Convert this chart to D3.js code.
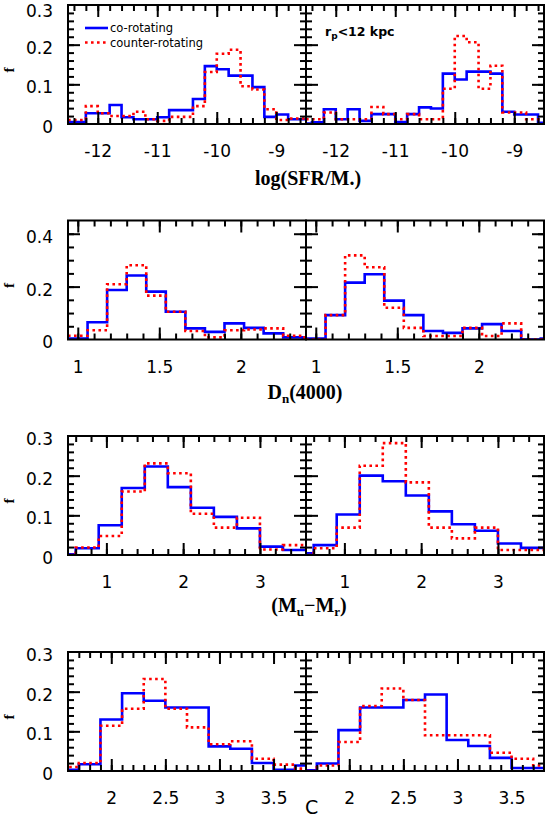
<!DOCTYPE html>
<html>
<head>
<meta charset="utf-8">
<script src="https://cdnjs.cloudflare.com/ajax/libs/d3/7.8.5/d3.min.js"></script>
<style>
body{margin:0;background:#fff;}
svg{display:block;}
.tk text{font-family:"DejaVu Sans",sans-serif;font-size:17px;fill:#000;}
.tk line{stroke:#000;stroke-width:2px;}
.ttl{font-family:"Liberation Serif",serif;font-weight:bold;font-size:20px;}
</style>
</head>
<body>
<div id="chart"></div>
<script>

// ---- row 1 : log(SFR/M*) , bins of 0.2 starting at -12.6
var sfrEdges=[-12.6,-12.4,-12.2,-12.0,-11.8,-11.6,-11.4,-11.2,-11.0,-10.8,-10.6,-10.4,-10.2,-10.0,-9.8,-9.6,-9.4,-9.2,-9.0,-8.8,-8.6,-8.4];
var sfrCoAll=[0.005,0.005,0.027,0.027,0.048,0.017,0.012,0.012,0.017,0.035,0.035,0.063,0.146,0.138,0.122,0.122,0.093,0.018,0.024,0.012,0.012];
var sfrCounterAll=[0.010,0.010,0.045,0.027,0.020,0.020,0.031,0.012,0.008,0.018,0.018,0.045,0.131,0.177,0.187,0.095,0.087,0.037,0.010,0.014,0.014];
var sfrCoClose=[0.001,0.004,0.037,0.012,0.037,0.008,0.025,0.025,0.005,0.025,0.042,0.039,0.127,0.112,0.132,0.132,0.127,0.031,0.024,0.024,0.003];
var sfrCounterClose=[0.012,0.012,0.029,0.012,0.012,0.012,0.043,0.025,0.012,0.025,0.012,0.012,0.089,0.222,0.206,0.089,0.147,0.029,0.029,0.012,0.012];
var sfrTicks=[-12,-11,-10,-9];

// ---- row 2 : Dn(4000)
var dnEdges=[0.94,1.06,1.18,1.30,1.42,1.54,1.66,1.78,1.90,2.02,2.14,2.26,2.38,2.50];
var dnCoAll=[0.004,0.065,0.187,0.242,0.181,0.105,0.042,0.029,0.061,0.044,0.023,0.008,0.004];
var dnCounterAll=[0.014,0.035,0.209,0.281,0.166,0.105,0.032,0.008,0.035,0.038,0.042,0.014,0.008];
var dnCoClose=[0.004,0.092,0.215,0.247,0.147,0.092,0.032,0.025,0.042,0.058,0.032,0.0,0.004];
var dnCounterClose=[0.0,0.092,0.318,0.273,0.120,0.044,0.013,0.013,0.044,0.013,0.061,0.0,0.0];
var dnTicks=[1,1.5,2];

// ---- row 3 : (Mu-Mr)
var urEdges=[0.3,0.6,0.9,1.2,1.5,1.8,2.1,2.4,2.7,3.0,3.3,3.6];
var urCoAll=[0.002,0.017,0.075,0.169,0.223,0.171,0.119,0.096,0.067,0.021,0.0125];
var urCounterAll=[0.0,0.019,0.048,0.160,0.231,0.206,0.104,0.069,0.094,0.014,0.025];
var urCoClose=[0.004,0.025,0.102,0.200,0.186,0.150,0.110,0.0775,0.061,0.029,0.018];
var urCounterClose=[0.0,0.017,0.069,0.225,0.282,0.183,0.069,0.042,0.069,0.0125,0.0125];
var urTicks=[1,2,3];

// ---- row 4 : concentration C
var cEdges=[1.5,1.7,1.9,2.1,2.3,2.5,2.7,2.9,3.1,3.3,3.5,3.7,3.9];
var cCoAll=[0.003,0.017,0.130,0.196,0.177,0.160,0.160,0.062,0.056,0.020,0.003,0.014];
var cCounterAll=[0.010,0.020,0.114,0.157,0.232,0.157,0.110,0.0675,0.075,0.031,0.016,0.006];
var cCoClose=[0.002,0.019,0.103,0.160,0.160,0.179,0.193,0.078,0.063,0.033,0.0076,0.0076];
var cCounterClose=[0.0,0.014,0.073,0.164,0.208,0.179,0.090,0.090,0.090,0.046,0.031,0.014];
var cTicks=[2,2.5,3,3.5];

var legendNames=["co-rotating","counter-rotating"];

var W=545, H=817;
var panelLeft=68, panelMid=306, panelRight=544, panelH=119;

var rows=[
	{top:5, xdom:[-12.5,-8.5], xmajor:sfrTicks, xminorStep:0.2, ymax:0.3, ymajorStep:0.1, ylab:[0,0.1,0.2,0.3], yminorStep:0.02,
	 edges:sfrEdges, left:[sfrCoAll,sfrCounterAll], right:[sfrCoClose,sfrCounterClose]},
	{top:220.5, xdom:[0.94,2.4], xmajor:dnTicks, xminorStep:0.1, ymax:0.45, ymajorStep:0.2, ylab:[0,0.2,0.4], yminorStep:0.05,
	 edges:dnEdges, left:[dnCoAll,dnCounterAll], right:[dnCoClose,dnCounterClose]},
	{top:436, xdom:[0.5,3.6], xmajor:urTicks, xminorStep:0.2, ymax:0.3, ymajorStep:0.1, ylab:[0,0.1,0.2,0.3], yminorStep:0.02,
	 edges:urEdges, left:[urCoAll,urCounterAll], right:[urCoClose,urCounterClose]},
	{top:652, xdom:[1.6,3.8], xmajor:cTicks, xminorStep:0.1, ymax:0.3, ymajorStep:0.1, ylab:[0,0.1,0.2,0.3], yminorStep:0.02,
	 edges:cEdges, left:[cCoAll,cCounterAll], right:[cCoClose,cCounterClose]}
];

var svg=d3.select("#chart").append("svg").attr("width",W).attr("height",H);

function steps(lo,hi,step){
	var out=[];
	var n=Math.round((hi-lo)/step);
	for(var i=0;i<=n;i++){ out.push(+(lo+i*step).toFixed(4)); }
	return out;
}

function fmt(d){ return String(d); }

function DrawPanel(row,ri,x0,x1,series,showYLabels,pid){
	var x=d3.scaleLinear().domain(row.xdom).range([x0,x1]);
	var y=d3.scaleLinear().domain([0,row.ymax]).range([row.top+panelH,row.top]);
	var g=svg.append("g");

	// histograms, clipped to the frame
	g.append("clipPath").attr("id","clip"+pid)
		.append("rect").attr("x",x0).attr("y",row.top).attr("width",x1-x0).attr("height",panelH);
	var line=d3.line().x(function(d){return x(d[0]);}).y(function(d){return y(d[1]);}).curve(d3.curveStepAfter);
	var colors=["#0000ff","#ff0000"];
	for(var s=0;s<2;s++){
		var vals=series[s];
		var pts=vals.map(function(v,i){return [row.edges[i],v];});
		pts.push([row.edges[vals.length],vals[vals.length-1]]);
		var p=g.append("path").datum(pts)
			.attr("clip-path","url(#clip"+pid+")")
			.attr("d",line)
			.attr("fill","none")
			.attr("stroke",colors[s])
			.attr("stroke-width",2.6);
		if(s==1){ p.attr("stroke-dasharray","2.6,3.4"); }
	}

	// minor ticks
	var lo=Math.ceil(row.xdom[0]/row.xminorStep)*row.xminorStep;
	var xMinor=steps(lo,row.xdom[1],row.xminorStep).filter(function(v){return v>row.xdom[0]&&v<row.xdom[1];});
	var yMinor=steps(0,row.ymax,row.yminorStep).filter(function(v){return v>0&&v<row.ymax;});
	var yMajor=steps(0,row.ymax,row.ymajorStep).filter(function(v){return v>0&&v<row.ymax;});
	var bottom=row.top+panelH;

	g.append("g").attr("class","tk").attr("transform","translate(0,"+bottom+")")
		.call(d3.axisBottom(x).tickValues(xMinor).tickSize(-6).tickFormat(""));
	g.append("g").attr("class","tk").attr("transform","translate(0,"+row.top+")")
		.call(d3.axisTop(x).tickValues(xMinor).tickSize(-6).tickFormat(""));
	g.append("g").attr("class","tk").attr("transform","translate(0,"+bottom+")")
		.call(d3.axisBottom(x).tickValues(row.xmajor).tickSize(-12).tickPadding(21).tickFormat(fmt));
	g.append("g").attr("class","tk").attr("transform","translate(0,"+row.top+")")
		.call(d3.axisTop(x).tickValues(row.xmajor).tickSize(-12).tickFormat(""));

	g.append("g").attr("class","tk").attr("transform","translate("+x0+",0)")
		.call(d3.axisLeft(y).tickValues(yMinor).tickSize(-6).tickFormat(""));
	g.append("g").attr("class","tk").attr("transform","translate("+x1+",0)")
		.call(d3.axisRight(y).tickValues(yMinor).tickSize(-6).tickFormat(""));
	g.append("g").attr("class","tk").attr("transform","translate("+x0+",0)")
		.call(d3.axisLeft(y).tickValues(yMajor).tickSize(-12).tickFormat(""));
	g.append("g").attr("class","tk").attr("transform","translate("+x1+",0)")
		.call(d3.axisRight(y).tickValues(yMajor).tickSize(-12).tickFormat(""));
	if(showYLabels){
		var yl=g.append("g").attr("class","tk").attr("transform","translate("+x0+",0)")
			.call(d3.axisLeft(y).tickValues(row.ylab).tickSize(0).tickPadding(15).tickFormat(fmt));
		// labels sit a little below their tick, the top one of the page a bit more
		yl.selectAll("text").attr("y",function(d){ return (ri==0 && d==row.ymax) ? 6 : 3; });
	}
	g.selectAll(".domain").remove();

	// frame
	g.append("rect").attr("x",x0).attr("y",row.top).attr("width",x1-x0).attr("height",panelH)
		.attr("fill","none").attr("stroke","#000").attr("stroke-width",2);
	return g;
}

rows.forEach(function(row,ri){
	DrawPanel(row,ri,panelLeft,panelMid,row.left,true,"L"+ri);
	DrawPanel(row,ri,panelMid,panelRight,row.right,false,"R"+ri);

	// y title "f"
	svg.append("text").attr("class","ttl")
		.attr("transform","translate(14,"+(row.top+65)+") rotate(-90)")
		.attr("text-anchor","middle")
		.style("font-size","15px")
		.text("f");
});

// legend (top left panel)
var legY=[28,42.5];
var legColors=["#0000ff","#ff0000"];
for(var i=0;i<2;i++){
	var ln=svg.append("line").attr("x1",85).attr("x2",108).attr("y1",legY[i]).attr("y2",legY[i])
		.attr("stroke",legColors[i]).attr("stroke-width",2.6);
	if(i==1){ ln.attr("stroke-dasharray","2.6,3.4"); }
	svg.append("text").attr("x",110).attr("y",legY[i]+4)
		.style("font-family","DejaVu Sans").style("font-size","11.5px")
		.text(legendNames[i]);
}

// r_p label in top right panel
var rp=svg.append("text").attr("x",325).attr("y",36)
	.style("font-family","DejaVu Sans").style("font-weight","bold").style("font-size","12.5px");
rp.append("tspan").text("r");
rp.append("tspan").attr("dy",3).style("font-size","9px").text("p");
rp.append("tspan").attr("dy",-3).text("<12 kpc");

// x titles
svg.append("text").attr("class","ttl").attr("x",308).attr("y",185).attr("text-anchor","middle").text("log(SFR/M.)");

var t2=svg.append("text").attr("class","ttl").attr("x",305).attr("y",399).attr("text-anchor","middle");
t2.append("tspan").text("D");
t2.append("tspan").attr("dy",4).style("font-size","13px").text("n");
t2.append("tspan").attr("dy",-4).text("(4000)");

var t3=svg.append("text").attr("class","ttl").attr("x",309).attr("y",612).attr("text-anchor","middle");
t3.append("tspan").text("(M");
t3.append("tspan").attr("dy",4).style("font-size","13px").text("u");
t3.append("tspan").attr("dy",-4).text("\u2212M");
t3.append("tspan").attr("dy",4).style("font-size","13px").text("r");
t3.append("tspan").attr("dy",-4).text(")");

svg.append("text").attr("x",305).attr("y",814)
	.style("font-family","DejaVu Sans").style("font-size","19px").text("C");

</script>
</body>
</html>
